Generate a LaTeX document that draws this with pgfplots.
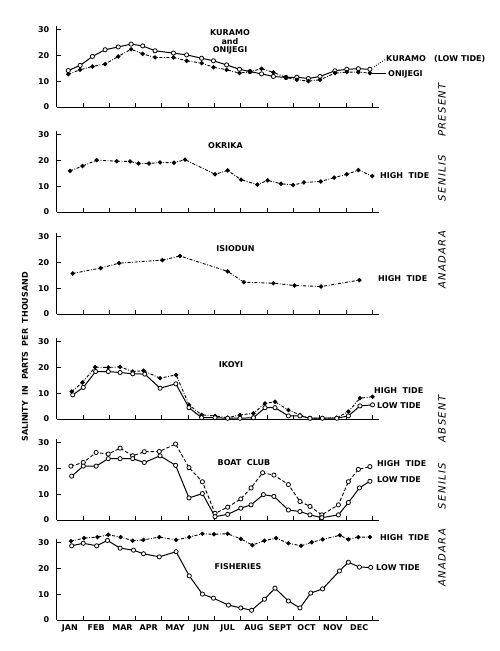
\documentclass[border=0pt]{standalone}
\usepackage{fontspec}
\setmainfont{DejaVu Sans}
\newfontfamily\sidefont{DejaVu Sans}[LetterSpace=14]
\usepackage{pgfplots}
\pgfplotsset{compat=1.18}

\newcommand\lab{\fontsize{8}{8.3}\selectfont\bfseries}

\pgfplotsset{
  panel/.style={
    x=26.3pt, y=2.567pt,
    xmin=0, xmax=12.25, ymin=0, ymax=31.5,
    axis x line=bottom, axis y line=left,
    axis line style={-, line width=1pt},
    xtick={1,...,12}, xticklabels={},
    ytick={0,10,20,30},
    tick align=inside, major tick length=4.5pt,
    every tick/.style={black, line width=1pt},
    ticklabel style={font=\lab},
    yticklabel style={xshift=-4pt},
    /pgf/number format/assume math mode=true,
    clip=false, anchor=south west
  },
  hi/.style={black, line width=0.9pt, dash pattern=on 3pt off 1.6pt on 0.8pt off 1.6pt,
    mark=*, mark size=1.7pt, mark options={solid}},
  lo/.style={black, line width=1pt, solid,
    mark=*, mark size=2.1pt, mark options={solid, fill=white, line width=0.8pt}},
  hidash/.style={black, line width=0.9pt, dash pattern=on 3.5pt off 2pt,
    mark=*, mark size=2.1pt, mark options={solid, fill=white, line width=0.8pt}}
}

\begin{document}
\begin{tikzpicture}
\useasboundingbox (0,-651pt) rectangle (500pt,0);

% Kuramo and Onijegi
\begin{axis}[panel, at={(56.7pt,-107pt)}]
\addplot[lo] coordinates {
 (0.44,14.2)(0.89,16.2)(1.36,19.7)(1.84,22.3)(2.34,23.4)(2.83,24.5)(3.27,23.8)
 (3.74,21.9)(4.44,21.0)(4.94,20.3)(5.51,19.0)(5.96,18.0)(6.46,16.4)(6.95,14.7)
 (7.35,13.8)(7.79,12.9)(8.24,11.9)(8.72,11.5)(9.13,11.6)(9.57,11.1)(10.01,11.9)
 (10.58,14.1)(11.03,14.7)(11.47,14.9)(11.91,14.7)};
\addplot[hi] coordinates {
 (0.44,12.8)(0.89,14.5)(1.36,15.8)(1.84,16.7)(2.34,19.7)(2.83,22.5)(3.27,20.7)
 (3.74,19.3)(4.44,19.3)(4.94,18.0)(5.51,17.1)(5.96,15.5)(6.46,14.5)(6.95,13.2)
 (7.35,13.8)(7.79,14.9)(8.24,13.5)(8.72,11.5)(9.13,10.6)(9.57,10.1)(10.01,10.6)
 (10.58,13.2)(11.03,13.6)(11.47,13.6)(11.91,13.2)};
\end{axis}

% Okrika
\begin{axis}[panel, at={(56.7pt,-212pt)}]
\addplot[hi] coordinates {
 (0.51,16.0)(0.98,17.9)(1.52,20.2)(2.28,19.8)(2.79,19.7)(3.11,18.9)(3.51,18.9)
 (3.93,19.3)(4.46,19.2)(4.88,20.4)(6.02,14.7)(6.50,16.2)(7.01,12.6)(7.63,10.7)
 (8.02,12.3)(8.53,11.0)(8.99,10.5)(9.40,11.5)(10.04,11.9)(10.55,13.4)(11.03,14.7)
 (11.47,16.3)(12.0,14.0)};
\end{axis}

% Isiodun
\begin{axis}[panel, at={(56.7pt,-314pt)}]
\addplot[hi] coordinates {
 (0.61,15.8)(1.67,17.9)(2.37,19.8)(4.02,21.0)(4.69,22.6)(6.50,16.6)(7.12,12.4)
 (8.24,12.0)(9.04,11.1)(10.05,10.7)(11.51,13.2)};
\end{axis}

% Ikoyi
\begin{axis}[panel, at={(56.7pt,-419pt)}]
\addplot[hi] coordinates {
 (0.57,10.7)(0.98,14.2)(1.46,20.2)(1.96,20.1)(2.41,20.3)(2.89,18.5)(3.30,18.8)
 (3.93,15.9)(4.54,17.2)(5.03,5.5)(5.51,1.6)(6.02,1.2)(6.50,0.5)(6.97,1.6)
 (7.48,2.2)(7.92,6.1)(8.30,6.7)(8.81,3.5)(9.25,1.6)(9.63,0.3)(10.1,0.3)
 (10.65,0.5)(11.09,2.9)(11.53,8.1)(12.01,8.7)};
\addplot[lo] coordinates {
 (0.61,9.4)(1.01,12.3)(1.48,18.5)(1.96,18.5)(2.41,18.1)(2.89,17.6)(3.35,17.5)
 (3.93,12.0)(4.53,13.7)(5.03,4.4)(5.51,0.5)(6.02,0.5)(6.50,0.3)(6.97,0.3)
 (7.48,0.5)(7.92,4.4)(8.30,4.4)(8.81,1.2)(9.25,1.2)(9.63,0.3)(10.1,0.3)
 (10.65,0.3)(11.09,1.2)(11.53,5.1)(12.01,5.5)};
\end{axis}

% Boat Club
\begin{axis}[panel, at={(56.7pt,-520pt)}]
\addplot[hidash] coordinates {
 (0.54,21.0)(1.01,22.4)(1.50,26.3)(1.96,25.7)(2.41,28.0)(2.89,25.0)(3.33,26.6)
 (3.90,26.7)(4.52,29.6)(5.03,20.4)(5.54,14.9)(6.02,2.6)(6.50,5.0)(7.0,8.2)
 (7.39,12.5)(7.83,18.4)(8.26,17.5)(8.81,13.8)(9.25,7.2)(9.63,5.3)(10.08,2.0)
 (10.71,5.9)(11.09,14.9)(11.47,19.7)(11.91,20.8)};
\addplot[lo] coordinates {
 (0.57,17.1)(1.01,21.0)(1.50,21.0)(1.96,23.9)(2.41,23.9)(2.89,23.9)(3.33,22.4)
 (3.93,25.0)(4.52,21.3)(5.03,8.6)(5.54,10.3)(6.02,1.3)(6.50,2.2)(7.0,4.6)
 (7.39,5.9)(7.86,9.9)(8.26,9.2)(8.81,3.9)(9.25,3.3)(9.63,2.0)(10.08,0.9)
 (10.71,2.0)(11.09,6.8)(11.51,12.5)(11.91,15.1)};
\end{axis}

% Fisheries
\begin{axis}[panel, at={(56.7pt,-620pt)},
  extra x ticks={0.5,1.5,...,11.5},
  extra x tick labels={JAN,FEB,MAR,APR,MAY,JUN,JUL,AUG,SEPT,OCT,NOV,DEC},
  extra x tick style={major tick length=0pt, xticklabel style={yshift=-1.5pt}}]
\addplot[hi] coordinates {
 (0.54,30.7)(1.04,31.9)(1.55,32.3)(1.96,33.2)(2.43,32.3)(2.89,30.9)(3.30,31.2)
 (3.90,32.3)(4.54,31.2)(5.04,32.3)(5.54,33.6)(5.98,33.4)(6.50,33.6)(7.0,31.6)
 (7.44,29.2)(7.90,30.9)(8.34,31.9)(8.81,29.9)(9.29,28.9)(9.70,30.3)(10.11,31.4)
 (10.77,33.0)(11.09,31.4)(11.47,32.3)(11.91,32.3)};
\addplot[lo] coordinates {
 (0.57,28.9)(1.01,29.9)(1.52,28.9)(1.93,31.0)(2.41,28.0)(2.92,27.2)(3.30,25.8)
 (3.90,24.6)(4.54,26.6)(5.04,17.2)(5.54,10.1)(5.96,8.5)(6.53,5.8)(7.0,4.7)
 (7.41,3.8)(7.90,8.1)(8.30,12.4)(8.81,7.4)(9.25,4.7)(9.66,10.5)(10.11,12.1)
 (10.75,19.1)(11.09,22.5)(11.51,20.6)(11.94,20.5)};
\end{axis}

% panel texts
\begin{scope}[every node/.style={font=\lab, inner sep=0pt}]
\node[align=center] at (230pt,-42pt) {KURAMO\\and\\ONIJEGI};
\node[anchor=west] at (386pt,-58.5pt) {KURAMO\ \ \ (LOW TIDE)};
\node[anchor=west] at (388pt,-74pt) {ONIJEGI};
\draw[line width=0.8pt] (372pt,-73.5pt) -- (386pt,-73.5pt);
\draw[line width=0.7pt, dash pattern=on 1.2pt off 1.2pt] (374pt,-67pt) -- (385pt,-59.5pt);

\node at (225.5pt,-145.7pt) {OKRIKA};
\node[anchor=west] at (380pt,-176pt) {HIGH\ \ TIDE};

\node at (235.5pt,-248.3pt) {ISIODUN};
\node[anchor=west] at (378pt,-279pt) {HIGH\ \ TIDE};

\node at (231pt,-364.3pt) {IKOYI};
\node[anchor=west] at (374pt,-391pt) {HIGH\ \ TIDE};
\node[anchor=west] at (377pt,-406pt) {LOW\ TIDE};

\node at (244pt,-462.3pt) {BOAT\ \ CLUB};
\node[anchor=west] at (377pt,-463.3pt) {HIGH\ \ TIDE};
\node[anchor=west] at (377pt,-479.3pt) {LOW\ TIDE};

\node at (238pt,-566.7pt) {FISHERIES};
\node[anchor=west] at (380pt,-537.7pt) {HIGH\ \ TIDE};
\node[anchor=west] at (376pt,-567.3pt) {LOW\ TIDE};

\node[rotate=90] at (25pt,-357pt) {SALINITY\ \ IN\ \ PARTS\ \ PER\ \ THOUSAND};
\end{scope}

\begin{scope}[every node/.style={font=\sidefont\itshape\fontsize{10}{10}\selectfont, inner sep=0pt, rotate=90}]
\node at (442pt,-110pt) {PRESENT};
\node at (442pt,-178pt) {SENILIS};
\node at (442pt,-260pt) {ANADARA};
\node at (442pt,-419pt) {ABSENT};
\node at (442pt,-486pt) {SENILIS};
\node at (442pt,-558pt) {ANADARA};
\end{scope}
\end{tikzpicture}
\end{document}
